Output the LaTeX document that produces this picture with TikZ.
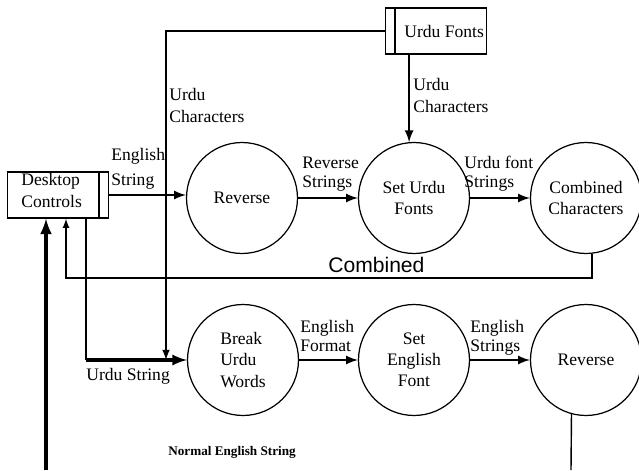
\documentclass[tikz,border=0pt]{standalone}
\usepackage{fontspec}
\setmainfont{Liberation Serif}
\setsansfont{Liberation Sans}

\begin{document}
\begin{tikzpicture}[x=0.02cm,y=-0.02cm,
    proc/.style={draw,circle,line width=0.7pt,minimum size=2.22cm,inner sep=0pt,align=center,font=\fontsize{10}{12}\selectfont},
    store/.style={draw,rectangle,line width=0.8pt,minimum width=2.02cm,minimum height=0.92cm,inner sep=0pt},
    lbl/.style={anchor=base west,inner sep=0pt,align=left,font=\fontsize{10}{12.5}\selectfont},
    tight/.style={font=\fontsize{10}{10.5}\selectfont},
    flow/.style={-latex,line width=1.3pt}]
  \useasboundingbox (0,0) rectangle (639,470);

  % stores
  \node[store] (dc) at (58,195) {};
  \draw[line width=0.8pt] ([xshift=-0.2cm]dc.north east) -- ([xshift=-0.2cm]dc.south east);
  \node[lbl] (dctxt) at (21,207) {Desktop\\Controls};
  \node[store] (uf) at (436,31) {};
  \draw[line width=0.8pt] ([xshift=0.2cm]uf.north west) -- ([xshift=0.2cm]uf.south west);
  \node[lbl] (uftxt) at (404,37) {Urdu Fonts};

  % processes
  \node[proc] (rev) at (242,198) {Reverse};
  \node[proc] (seturdu) at (414,198) {Set Urdu\\Fonts};
  \node[proc] (comb) at (586,198) {Combined\\Characters};
  \node[proc,align=left] (brk) at (243,360) {Break\\Urdu\\Words};
  \node[proc] (seteng) at (414,360) {Set\\English\\Font};
  \node[proc] (rev2) at (586,360) {Reverse};

  \coordinate (ujoin) at (166,360);
  \coordinate (ucorner) at (86,360);
  \coordinate (cret) at (66,278);
  \coordinate (dcin) at (46,470);
  \coordinate (outbot) at (571,470);

  % flows
  \draw[-latex,line width=1pt] (uf.west) -| (ujoin);
  \draw[flow] (seturdu.95 |- uf.south) -- (seturdu.95);
  \draw[flow] (dc.east) -- (dc.east -| rev.west);
  \draw[flow] (rev) -- (seturdu);
  \draw[flow] (seturdu) -- (comb);
  \draw[-latex,line width=0.8pt] (comb.-84) |- (cret) -- (cret |- dc.south);
  \draw[-latex,line width=2pt] (dcin) -- (dcin |- dc.south);
  \draw[line width=0.8pt] (ucorner |- dc.south) -- (ucorner);
  \draw[flow,line width=1.8pt] (ucorner) -- (brk.west);
  \draw[flow] (brk) -- (seteng);
  \draw[flow] (seteng) -- (rev2);
  \draw[line width=0.8pt] (rev2.-105) -- (outbot);

  % labels (base = last line)
  \node[lbl,font=\fontsize{10}{14}\selectfont] (lengstr) at (111,185) {English\\String};
  \node[lbl] (lurduch) at (169,122) {Urdu\\Characters};
  \node[lbl] (lurduch2) at (413,112) {Urdu\\Characters};
  \node[lbl,tight] (lrevstr) at (302,187) {Reverse\\Strings};
  \node[lbl,tight] (lufstr) at (464,187) {Urdu font\\Strings};
  \node[lbl,tight] (lengfmt) at (300,351) {English\\Format};
  \node[lbl,tight] (lengstrs) at (470,351) {English\\Strings};
  \node[lbl] (lurdustr) at (86,380) {Urdu String};
  \node[lbl,font=\sffamily\fontsize{12}{14}\selectfont] (lcomb) at (328,272) {Combined};
  \node[lbl,font=\bfseries\fontsize{7.5}{9}\selectfont] (lnormal) at (168,455) {Normal English String};
\end{tikzpicture}
\end{document}
